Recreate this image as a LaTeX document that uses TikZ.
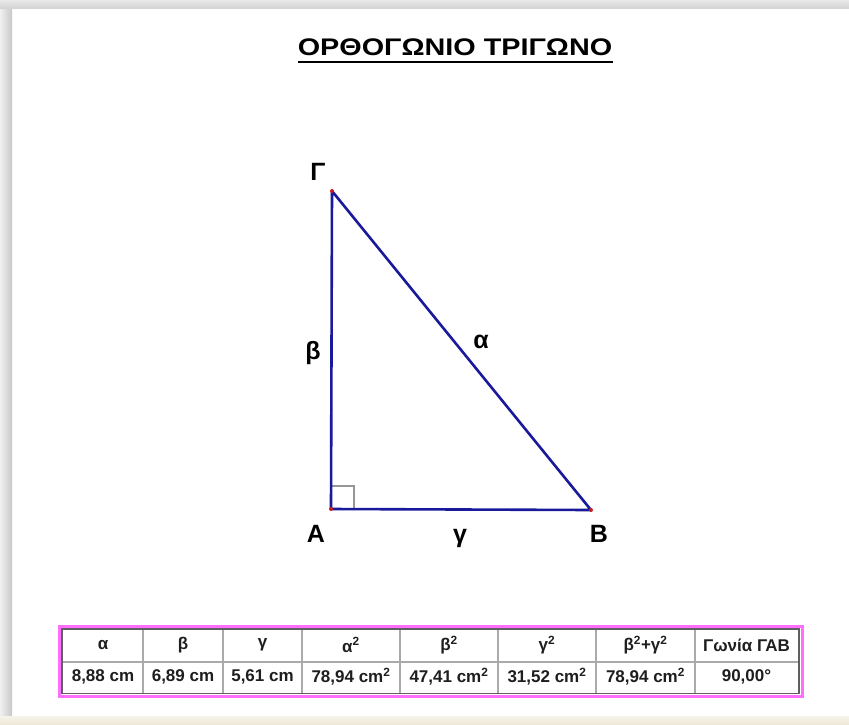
\documentclass[tikz,border=0pt]{standalone}
\usepackage{fontspec}
\setmainfont{Liberation Sans}
\begin{document}
\begin{tikzpicture}[x=1pt,y=-1pt,
  tri/.style={draw={rgb,255:red,25;green,25;blue,155},line width=2.6pt,line join=round},
  vdot/.style={circle,fill={rgb,255:red,200;green,30;blue,30},inner sep=0pt,minimum size=4pt},
  vlabel/.style={font=\fontsize{25}{25}\selectfont\bfseries,inner sep=0pt},
  cell/.style={font=\fontsize{17}{17}\selectfont\bfseries,inner sep=0pt,text={rgb,255:red,30;green,30;blue,30}},
  grid/.style={draw={rgb,255:red,170;green,170;blue,170},line width=1.4pt}
]
\useasboundingbox (0,0) rectangle (849,724);
% page and shadows
\fill[white] (0,0) rectangle (849,724);
\shade[left color={rgb,255:red,240;green,240;blue,240},right color={rgb,255:red,200;green,200;blue,200}] (0,0) rectangle (12,724);
\shade[top color={rgb,255:red,232;green,232;blue,232},bottom color={rgb,255:red,212;green,212;blue,212}] (0,0) rectangle (849,8);
\shade[top color={rgb,255:red,246;green,243;blue,232},bottom color={rgb,255:red,238;green,233;blue,215}] (0,716) rectangle (849,724);
\fill[white] (13,9) rectangle (849,716);

% title
\node[inner sep=0pt,font=\fontsize{24}{24}\selectfont\bfseries] (title) at (455,47) {\scalebox{1.2}[1]{ΟΡΘΟΓΩΝΙΟ ΤΡΙΓΩΝΟ}};
\draw[line width=1.8pt] (298,62) -- (613,62);

% triangle
\coordinate (A) at (331,509);
\coordinate (B) at (591,510);
\coordinate (G) at (332,191);
\draw[draw={rgb,255:red,150;green,150;blue,150},line width=1.4pt] (331,486) -- (354,486) -- (354,509);
\draw[tri] (A) -- (B) -- (G) -- cycle;
\node[vdot] (dA) at (A) {};
\node[vdot] (dB) at (B) {};
\node[vdot] (dG) at (G) {};

\node[vlabel] (lG) at (318,172) {Γ};
\node[vlabel] (lA) at (316,534) {Α};
\node[vlabel] (lB) at (599,534) {Β};
\node[vlabel] (lb) at (313,353) {β};
\node[vlabel] (la) at (481,342) {α};
\node[vlabel] (lc) at (460,538) {γ};

% table
\draw[draw={rgb,255:red,255;green,110;blue,255},line width=3pt] (59.5,626.5) rectangle (802.5,696);
\fill[white] (62,629) rectangle (798,693);
\draw[grid] (63,662) -- (798,662);
\foreach \x in {143,223,302,400,498,596,695} \draw[grid] (\x,629) -- (\x,693);
\draw[draw={rgb,255:red,95;green,95;blue,95},line width=1.8pt] (62,629) rectangle (799,693.5);

\node[cell] (h1) at (103,645) {α};
\node[cell] (h2) at (183,645) {β};
\node[cell] (h3) at (262.5,645) {γ};
\node[cell] (h4) at (351,645) {α\textsuperscript{2}};
\node[cell] (h5) at (449,645) {β\textsuperscript{2}};
\node[cell] (h6) at (547,645) {γ\textsuperscript{2}};
\node[cell] (h7) at (645.5,645) {β\textsuperscript{2}+γ\textsuperscript{2}};
\node[cell] (h8) at (746.5,645) {Γωνία ΓΑΒ};

\node[cell] (v1) at (103,677) {8,88 cm};
\node[cell] (v2) at (183,677) {6,89 cm};
\node[cell] (v3) at (262.5,677) {5,61 cm};
\node[cell] (v4) at (351,677) {78,94 cm\textsuperscript{2}};
\node[cell] (v5) at (449,677) {47,41 cm\textsuperscript{2}};
\node[cell] (v6) at (547,677) {31,52 cm\textsuperscript{2}};
\node[cell] (v7) at (645.5,677) {78,94 cm\textsuperscript{2}};
\node[cell] (v8) at (746.5,677) {90,00°};
\end{tikzpicture}
\end{document}
